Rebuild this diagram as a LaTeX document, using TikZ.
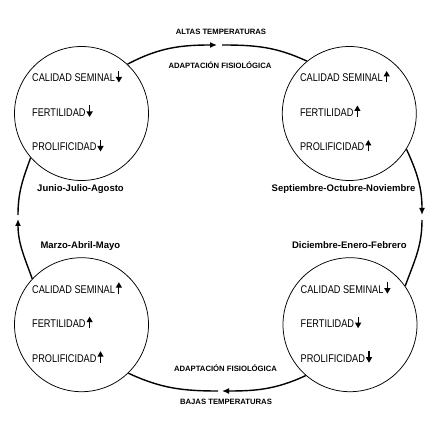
\documentclass[tikz,border=0pt]{standalone}
\usepackage{fontspec}
\setmainfont{Liberation Sans}
\newfontfamily\cond[FakeStretch=0.82]{Liberation Sans}
\usetikzlibrary{arrows.meta,calc}
\tikzset{
  season/.style={circle,draw,line width=0.75pt,minimum size=134pt,inner sep=0pt},
  conn/.style={line width=1.4pt},
  tipped/.style={-{Latex[length=7pt,width=6pt]}},
  stat/.style={anchor=base west,inner sep=0pt,font=\cond\fontsize{11.2}{13}\selectfont},
  smallarr/.style={line width=1.2pt,-{Triangle[length=5.5pt,width=6pt]}},
  month/.style={anchor=base,inner sep=0pt,font=\bfseries\fontsize{9.5}{11}\selectfont},
  temp/.style={anchor=base,inner sep=0pt,font=\bfseries\fontsize{7.7}{9}\selectfont}
}
\newcommand\statdn[3]{\node[stat] (#1) at (#2) {#3};
  \draw[smallarr] ([xshift=3.8pt,yshift=11pt]#1.base east) -- ([xshift=3.8pt,yshift=-0.5pt]#1.base east);}
\newcommand\statup[3]{\node[stat] (#1) at (#2) {#3};
  \draw[smallarr] ([xshift=3.8pt,yshift=-0.5pt]#1.base east) -- ([xshift=3.8pt,yshift=11pt]#1.base east);}
\begin{document}
\begin{tikzpicture}[x=1pt,y=1pt]
\useasboundingbox (0,0) rectangle (433,431);
% circles
\node[season] (tl) at (81.5,317.5) {};
\node[season] (tr) at (349.3,317.5) {};
\node[season] (bl) at (81.5,106.3) {};
\node[season] (br) at (350,106.3) {};
% statements
\statdn{tl1}{$(tl.center)+(-49.5,31.5)$}{CALIDAD SEMINAL}
\statdn{tl2}{$(tl.center)+(-49.5,-3)$}{FERTILIDAD}
\statdn{tl3}{$(tl.center)+(-49.5,-37.5)$}{PROLIFICIDAD}
\statup{tr1}{$(tr.center)+(-49.5,31.5)$}{CALIDAD SEMINAL}
\statup{tr2}{$(tr.center)+(-49.5,-3)$}{FERTILIDAD}
\statup{tr3}{$(tr.center)+(-49.5,-37.5)$}{PROLIFICIDAD}
\statup{bl1}{$(bl.center)+(-49.5,31.5)$}{CALIDAD SEMINAL}
\statup{bl2}{$(bl.center)+(-49.5,-3)$}{FERTILIDAD}
\statup{bl3}{$(bl.center)+(-49.5,-37.5)$}{PROLIFICIDAD}
\statdn{br1}{$(br.center)+(-49.5,31.5)$}{CALIDAD SEMINAL}
\statdn{br2}{$(br.center)+(-49.5,-3)$}{FERTILIDAD}
\statdn{br3}{$(br.center)+(-49.5,-37.5)$}{PROLIFICIDAD}
% labels
\node[temp] (altas) at (221,396.5) {ALTAS TEMPERATURAS};
\node[temp] (adapt1) at (220,362.7) {ADAPTACIÓN FISIOLÓGICA};
\node[temp] (adapt2) at (225.5,59.3) {ADAPTACIÓN FISIOLÓGICA};
\node[temp] (bajas) at (226,27) {BAJAS TEMPERATURAS};
\node[month] (jja) at (80.5,239.3) {Junio-Julio-Agosto};
\node[month] (son) at (343.5,239.3) {Septiembre-Octubre-Noviembre};
\node[month] (mam) at (80.4,182) {Marzo-Abril-Mayo};
\node[month] (def) at (349.3,182) {Diciembre-Enero-Febrero};
% connector break points
\coordinate (ttip) at (217,386);
\coordinate (tres) at (222,386);
\coordinate (rtip) at (422,216);
\coordinate (rres) at (422,211);
\coordinate (btip) at (222,40);
\coordinate (bres) at (218,40);
\coordinate (ltip) at (18,212);
\coordinate (lres) at (18,216);
% connectors
\draw[conn,tipped] (tl.47) to[out=28,in=180] (ttip);
\draw[conn] (tres) to[out=0,in=155] (tr.129);
\draw[conn,tipped] (tr.-32) to[out=-65,in=90] (rtip);
\draw[conn] (rres) to[out=-90,in=70] (br.35);
\draw[conn,tipped] (br.-131) to[out=-155,in=0] (btip);
\draw[conn] (bres) to[out=180,in=-25] (bl.-46);
\draw[conn,tipped] (bl.137) to[out=110,in=-90] (ltip);
\draw[conn] (lres) to[out=90,in=-110] (tl.-139);
\end{tikzpicture}
\end{document}
